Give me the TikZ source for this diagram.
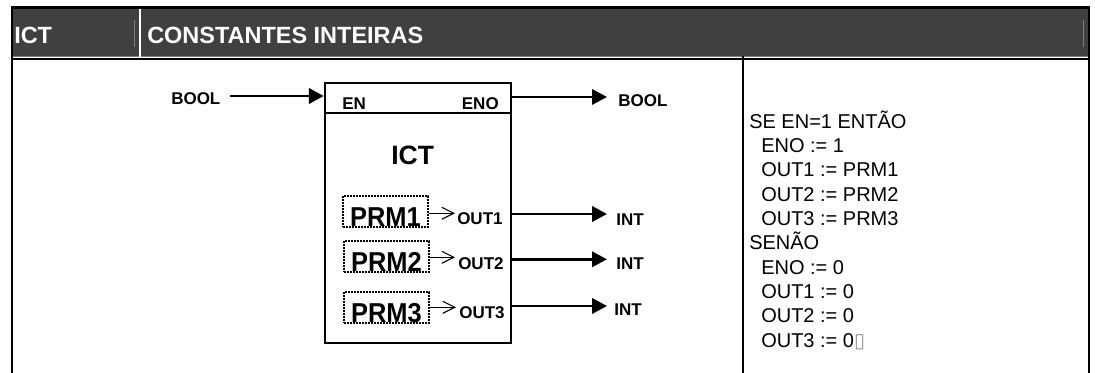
\documentclass[tikz,border=0pt]{standalone}
\usepackage{fontspec}
\setmainfont{Liberation Sans}
\newfontfamily\dejavu{DejaVu Sans}
\usetikzlibrary{arrows.meta}
\definecolor{hdrfill}{RGB}{64,64,64}
\definecolor{hdrline}{RGB}{125,125,125}
\definecolor{boxgray}{RGB}{150,150,150}
\begin{document}
\begin{tikzpicture}[x=0.75pt,y=-0.75pt,
  hdrtxt/.style={font=\bfseries\fontsize{17.6}{20}\selectfont, text=white, inner sep=0, anchor=base west},
  lbl/.style={font=\bfseries\fontsize{12.75}{15}\selectfont, inner sep=0, anchor=base west},
  titletxt/.style={font=\bfseries\fontsize{19.9}{22}\selectfont, inner sep=0, anchor=base west},
  prmbox/.style={draw, line width=1.3pt, dash pattern=on 1.5pt off 0.75pt, inner sep=0,
    text depth=0pt, text height=23.25pt, minimum width=63.75pt,
    font=\bfseries\fontsize{20.5}{22}\selectfont, anchor=base west},
  codetxt/.style={font=\fontsize{15}{18}\selectfont, inner sep=0, anchor=base west},
  bigarrow/.style={line width=2.2pt, -{Triangle[length=11.25pt,width=11.5pt]}},
  smallarrow/.style={line width=0.8pt, -{Straight Barb[length=9pt,width=9pt]}},
  frame/.style={line width=1.6pt}
]
\useasboundingbox (0,0) rectangle (1095,373);
% header band
\fill[hdrfill] (11,8) rectangle (1089,57);
\draw[hdrline, line width=0.75pt] (11,57) -- (1089,57);
\draw[hdrline, line width=0.75pt] (134,20) -- (134,47);
\draw[hdrline, line width=0.75pt] (1083,20) -- (1083,47);
\draw[white, line width=1.5pt] (139.5,8) -- (139.5,57);
\node[hdrtxt] (hname) at (14,44) {ICT};
\node[hdrtxt] (htitle) at (147,44) {CONSTANTES INTEIRAS};
% table frame
\draw[frame] (11,7.5) -- (1090,7.5);
\draw[frame] (12,7) -- (12,373);
\draw[frame] (1089,7) -- (1089,373);
\draw[line width=2pt] (11,59) -- (1090,59);
\draw[line width=2pt] (743,56) -- (743,373);
% function block
\node[draw, line width=1.8pt, minimum width=139.5pt, minimum height=195pt, inner sep=0] (blk) at (418,213) {};
\coordinate (dl) at (325,113);
\draw[line width=2.2pt] (dl) -- (blk.east |- dl);
\node[lbl] (en) at (342,109.3) {EN};
\node[lbl, anchor=base east] (eno) at (499,109.3) {ENO};
\node[titletxt] (ict) at (391,165) {ICT};
% input
\node[lbl] (boolin) at (171,105) {BOOL};
\coordinate (s0) at (230,96);
\draw[bigarrow] (s0) -- (blk.west |- s0);
% ENO output
\coordinate (o0) at (607,97);
\draw[bigarrow, line width=1.7pt] (blk.east |- o0) -- (o0);
\node[lbl] (boolout) at (618,106.7) {BOOL};
% parameters
\node[prmbox] (p1) at (342,227) {\scalebox{0.93}[1]{PRM1}};
\node[prmbox] (p2) at (343,272) {\scalebox{0.93}[1]{PRM2}};
\node[prmbox] (p3) at (343,323) {\scalebox{0.93}[1]{PRM3}};
\coordinate (t1) at (455,213.3);
\coordinate (t2) at (455,257.3);
\coordinate (t3) at (456,307.3);
\draw[smallarrow] (p1.east |- t1) -- (t1);
\draw[smallarrow] (p2.east |- t2) -- (t2);
\draw[smallarrow] (p3.east |- t3) -- (t3);
\node[lbl] (out1) at (457,225) {OUT1};
\node[lbl] (out2) at (458,269.3) {OUT2};
\node[lbl] (out3) at (459,318.3) {OUT3};
% outputs
\coordinate (q1) at (607,214);
\coordinate (q2) at (607,259.3);
\coordinate (q3) at (607,306);
\draw[bigarrow] (blk.east |- q1) -- (q1);
\draw[bigarrow, line width=1.9pt] (blk.east |- q2) -- (q2);
\draw[bigarrow, line width=1.9pt] (blk.east |- q3) -- (q3);
\node[lbl] (int1) at (616,225.7) {INT};
\node[lbl] (int2) at (616,270) {INT};
\node[lbl] (int3) at (614,315.7) {INT};
% structured text
\node[codetxt] (c0) at (749,128.3) {SE EN=1 ENTÃO};
\node[codetxt] (c1) at (761,152.6) {ENO := 1};
\node[codetxt] (c2) at (761,177.0) {OUT1 := PRM1};
\node[codetxt] (c3) at (761,201.3) {OUT2 := PRM2};
\node[codetxt] (c4) at (761,225.6) {OUT3 := PRM3};
\node[codetxt] (c5) at (749,250.0) {SENÃO};
\node[codetxt] (c6) at (761,274.3) {ENO := 0};
\node[codetxt] (c7) at (761,298.6) {OUT1 := 0};
\node[codetxt] (c8) at (761,323.0) {OUT2 := 0};
\node[codetxt] (c9) at (761,347.3) {OUT3 := 0{\dejavu\fontsize{15}{18}\selectfont\textcolor{boxgray}{▯}}};
\end{tikzpicture}
\end{document}
